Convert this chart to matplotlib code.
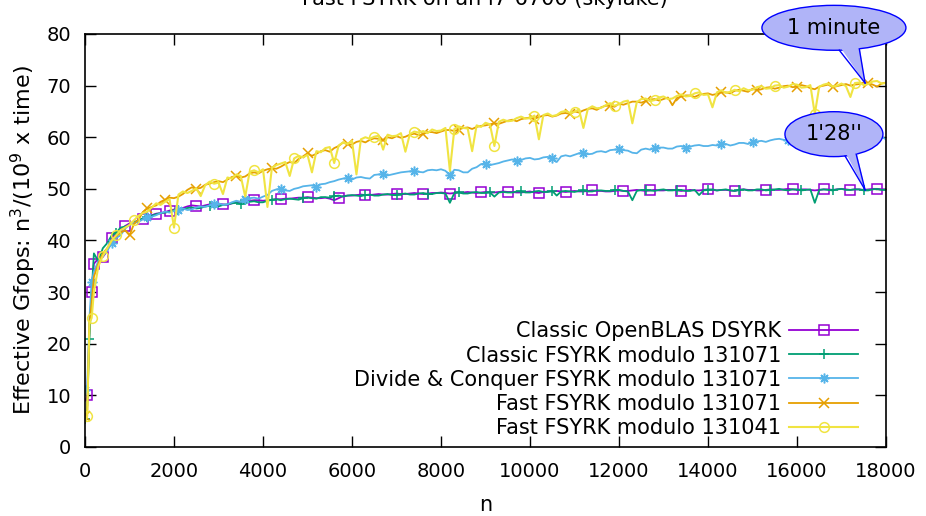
import numpy as np
import matplotlib
matplotlib.use("Agg")
import matplotlib.pyplot as plt
from matplotlib.patches import Ellipse, Polygon

# matrix sizes: a few small ones, then every 100 up to 18000
n = np.concatenate([[10, 50, 100, 150, 200, 300, 400, 500, 600, 700, 800, 900],
                    np.arange(1000, 18001, 100)])

openblas = [9.0, 10.0, 23.0, 30.0, 35.5, 36.5, 36.8, 38.0, 40.5, 41.5, 42.0, 42.8,
            43.3, 43.6, 43.8, 44.2, 44.5, 44.9, 45.2, 45.3, 45.5, 45.8,
            46.0, 46.1, 46.3, 46.6, 46.8, 46.7, 46.6, 46.8, 47.0, 47.1,
            47.1, 47.0, 46.9, 47.2, 47.4, 47.5, 47.6, 47.7, 47.8, 47.8,
            47.7, 47.8, 47.9, 48.0, 48.0, 48.1, 48.1, 48.2, 48.3, 48.3,
            48.4, 48.3, 48.2, 48.2, 48.3, 48.1, 47.8, 48.2, 48.6, 48.7,
            48.7, 48.8, 48.9, 48.8, 48.8, 48.9, 49.0, 48.9, 48.9, 49.0,
            49.1, 49.0, 49.0, 49.1, 49.2, 49.1, 49.0, 49.1, 49.2, 49.2,
            49.3, 49.2, 49.1, 49.2, 49.3, 49.3, 49.4, 49.3, 49.2, 49.3,
            49.4, 49.3, 49.3, 49.4, 49.5, 49.4, 49.4, 49.3, 49.3, 49.4,
            49.5, 49.3, 49.2, 49.4, 49.5, 49.5, 49.6, 49.5, 49.4, 49.5,
            49.6, 49.5, 49.5, 49.6, 49.7, 49.6, 49.6, 49.5, 49.5, 49.6,
            49.7, 49.6, 49.6, 49.7, 49.8, 49.7, 49.6, 49.7, 49.8, 49.7,
            49.7, 49.8, 49.8, 49.7, 49.6, 49.7, 49.8, 49.7, 49.7, 49.8,
            49.9, 49.8, 49.7, 49.8, 49.8, 49.7, 49.6, 49.8, 49.9, 49.8,
            49.8, 49.7, 49.7, 49.8, 49.9, 49.8, 49.8, 49.9, 50.0, 49.9,
            49.8, 49.9, 49.9, 49.8, 49.7, 49.8, 49.9, 49.9, 49.8, 49.9,
            50.0, 49.9, 49.8, 49.9, 49.9, 49.8, 49.9, 50.0, 50.0, 49.9,
            49.9]

classic = [5.5, 8.0, 21.0, 30.0, 37.5, 36.0, 38.5, 39.5, 41.0, 41.5, 42.5, 42.7,
           43.0, 43.5, 43.9, 44.3, 44.6, 44.8, 45.1, 45.3, 45.4, 45.6,
           45.8, 45.9, 46.0, 46.3, 46.4, 46.2, 46.3, 46.6, 46.7, 46.5,
           46.6, 46.9, 47.0, 47.2, 47.3, 47.1, 47.2, 47.5, 47.6, 47.4,
           47.4, 47.7, 47.9, 48.0, 47.8, 48.0, 48.1, 48.0, 47.9, 48.2,
           48.3, 48.2, 48.1, 48.4, 48.4, 48.3, 48.6, 48.7, 48.5, 48.7,
           48.8, 48.7, 48.6, 48.8, 48.9, 48.7, 48.7, 48.9, 49.0, 48.8,
           48.8, 49.0, 49.1, 48.9, 48.9, 49.1, 49.2, 49.0, 49.0, 49.2,
           49.2, 49.1, 47.3, 49.2, 49.3, 49.1, 49.1, 49.3, 49.4, 49.2,
           49.2, 49.3, 48.5, 49.3, 49.4, 49.3, 49.3, 49.5, 49.5, 49.3,
           49.3, 49.5, 49.6, 49.4, 49.4, 49.6, 48.7, 49.5, 49.6, 49.5,
           49.4, 49.6, 49.7, 49.5, 49.5, 49.7, 49.7, 49.6, 49.6, 49.8,
           49.8, 49.6, 49.5, 47.8, 49.6, 49.8, 49.8, 49.7, 49.6, 49.8,
           49.9, 49.7, 49.7, 49.8, 49.8, 49.6, 49.6, 49.8, 48.8, 49.7,
           49.8, 49.9, 49.7, 49.8, 49.9, 49.7, 49.6, 49.8, 49.9, 49.7,
           49.7, 49.9, 49.9, 49.7, 49.8, 49.9, 50.0, 49.8, 49.7, 49.9,
           49.9, 49.7, 49.8, 49.9, 47.3, 49.8, 49.9, 49.8, 49.7, 49.9,
           50.0, 49.8, 49.8, 49.9, 49.9, 49.7, 49.7, 49.9, 50.0, 49.8,
           49.8]

dandc = [11.0, 12.0, 25.0, 32.0, 34.0, 36.0, 37.0, 38.0, 39.5, 40.5, 41.0, 42.3,
         43.0, 43.4, 43.6, 44.1, 44.5, 44.6, 44.9, 45.3, 45.6, 45.4,
         45.7, 46.0, 46.2, 45.9, 46.0, 46.4, 46.6, 46.5, 46.8, 47.0,
         47.2, 46.9, 47.0, 47.4, 47.7, 47.5, 48.0, 48.2, 48.3, 48.1,
         48.5, 48.8, 49.6, 49.9, 50.0, 49.7, 49.6, 50.0, 50.2, 50.5,
         50.6, 50.7, 50.4, 50.9, 51.0, 51.3, 51.5, 51.8, 52.0, 52.1,
         51.8, 52.2, 52.3, 52.1, 52.0, 52.7, 52.8, 52.9, 52.6, 52.8,
         53.0, 53.2, 53.3, 53.4, 53.5, 53.3, 53.2, 53.6, 53.7, 53.6,
         53.8, 53.5, 52.6, 53.7, 53.6, 53.2, 53.2, 53.9, 54.2, 54.8,
         54.9, 54.6, 54.8, 55.0, 55.3, 55.5, 55.7, 55.4, 55.6, 55.9,
         56.0, 55.7, 55.8, 56.1, 56.2, 55.9, 55.2, 56.3, 56.5, 56.3,
         56.6, 56.9, 57.0, 56.7, 56.8, 57.2, 57.3, 57.1, 57.5, 57.6,
         57.7, 57.5, 57.4, 57.0, 56.9, 57.6, 57.8, 57.6, 57.9, 58.0,
         58.0, 57.8, 57.8, 58.2, 58.3, 58.0, 58.2, 58.4, 58.5, 58.3,
         58.3, 58.5, 58.4, 58.6, 58.7, 58.4, 58.6, 58.9, 58.9, 58.7,
         59.0, 59.2, 59.3, 59.1, 59.4, 59.6, 59.7, 59.5, 59.5, 59.8,
         59.4, 59.7, 59.6, 59.3, 59.3, 59.6, 59.8, 59.9, 59.6, 59.8,
         59.9, 60.1, 59.7, 59.9, 60.0, 60.2, 59.8, 59.9, 59.9, 60.1,
         59.6]

fast71 = [6.0, 7.0, 24.0, 28.0, 33.0, 35.5, 37.5, 38.5, 40.0, 40.8, 41.5, 42.0,
          41.0, 43.2, 44.0, 45.5, 46.2, 46.5, 46.8, 47.5, 47.9, 48.3,
          48.2, 48.5, 49.0, 49.8, 50.3, 50.0, 50.2, 50.8, 51.0, 51.3,
          51.5, 51.3, 51.8, 52.3, 52.5, 52.2, 52.4, 53.0, 53.2, 53.0,
          53.5, 53.8, 54.0, 53.9, 54.3, 54.8, 55.2, 55.0, 55.8, 56.3,
          56.9, 56.4, 56.8, 57.3, 57.5, 57.2, 57.9, 58.3, 59.0, 58.6,
          58.6, 59.1, 59.3, 59.0, 59.5, 59.8, 59.7, 59.4, 60.0, 59.8,
          60.2, 59.9, 60.1, 60.5, 60.7, 60.4, 60.6, 61.0, 61.0, 60.8,
          61.1, 61.4, 61.4, 61.2, 61.5, 61.8, 61.9, 61.6, 62.0, 62.2,
          62.3, 62.5, 62.7, 62.6, 62.9, 63.2, 63.4, 63.1, 63.5, 63.7,
          63.8, 63.6, 63.9, 64.2, 64.3, 64.0, 64.2, 64.6, 64.7, 64.5,
          65.0, 64.8, 65.2, 65.5, 65.6, 65.3, 65.8, 66.1, 66.1, 65.9,
          66.5, 66.3, 66.6, 66.9, 66.9, 66.7, 67.0, 67.3, 67.4, 67.1,
          67.4, 67.7, 66.2, 67.6, 67.9, 68.1, 68.1, 67.8, 68.2, 68.4,
          68.5, 68.2, 68.4, 68.7, 68.7, 68.5, 69.0, 69.2, 69.0, 68.8,
          69.4, 69.1, 69.3, 69.6, 69.7, 69.4, 69.6, 69.9, 70.0, 69.7,
          69.8, 70.1, 69.9, 69.5, 69.3, 69.8, 70.0, 70.2, 69.7, 69.9,
          70.1, 70.3, 70.0, 70.2, 70.3, 70.6, 70.5, 70.2, 69.8, 70.4,
          70.6]

fast41 = [5.0, 6.0, 24.0, 25.0, 30.0, 35.0, 37.0, 38.5, 40.0, 41.0, 42.0, 42.5,
          43.0, 43.9, 44.8, 45.3, 45.6, 46.4, 47.2, 46.9, 47.5, 48.0,
          42.5, 48.9, 49.5, 49.2, 49.6, 50.1, 48.6, 50.7, 51.4, 51.0,
          51.2, 49.0, 52.2, 52.0, 52.8, 52.5, 48.5, 53.3, 53.6, 53.2,
          53.8, 46.5, 54.1, 54.6, 54.9, 55.2, 52.5, 55.9, 56.4, 56.1,
          56.6, 53.2, 57.3, 57.1, 57.9, 58.1, 55.0, 58.4, 59.0, 58.7,
          59.3, 52.8, 59.6, 60.0, 59.7, 60.1, 60.3, 57.6, 60.5, 60.2,
          60.3, 60.8, 57.2, 60.6, 61.1, 60.9, 61.2, 60.8, 61.5, 61.2,
          61.3, 61.8, 53.5, 61.6, 62.1, 61.8, 61.7, 57.3, 62.3, 62.0,
          62.8, 62.5, 58.3, 63.0, 63.4, 63.1, 63.2, 63.7, 64.0, 63.6,
          63.7, 64.2, 59.6, 64.3, 64.6, 64.1, 64.3, 64.9, 65.1, 64.7,
          64.9, 65.4, 61.8, 65.5, 66.0, 65.6, 65.7, 66.2, 66.6, 66.1,
          66.4, 66.9, 67.1, 62.7, 66.8, 67.4, 67.5, 67.0, 67.2, 67.7,
          67.9, 67.4, 67.5, 68.0, 68.3, 67.9, 68.0, 68.5, 68.7, 68.2,
          68.3, 65.8, 68.7, 69.1, 68.6, 68.8, 69.2, 68.9, 69.5, 69.1,
          69.2, 69.7, 69.9, 69.4, 69.5, 70.0, 70.1, 69.6, 69.8, 70.3,
          70.2, 69.6, 69.7, 70.1, 64.5, 69.8, 70.2, 70.4, 69.8, 70.0,
          70.4, 69.9, 67.8, 70.5, 70.6, 70.1, 70.3, 70.8, 70.9, 70.4,
          70.5]


def marks(early, start, step):
    # gnuplot-like point interval: a few marks near the origin, then regular ones
    later = np.searchsorted(n, np.arange(start, 18001, step))
    return sorted(set(list(early) + [int(i) for i in later if i < len(n)]))


# label, values, colour, marker, line width, marked points
series = [
    ("Classic OpenBLAS DSYRK", openblas, "#9400d3", "s", 1.3,
     marks([1, 3, 4, 6, 8, 11, 15, 18, 21], 2430, 640)),
    ("Classic FSYRK modulo 131071", classic, "#009e73", "+", 1.3,
     marks([0, 2], 700, 700)),
    ("Divide & Conquer FSYRK modulo 131071", dandc, "#56b4e9", (8, 2, 0), 1.3,
     marks([0, 3], 560, 760)),
    ("Fast FSYRK modulo 131071", fast71, "#e69f00", "x", 1.3,
     marks([0, 12, 16, 20], 2470, 840)),
    ("Fast FSYRK modulo 131041", fast41, "#f0e442", "o", 1.5,
     marks([1, 3, 6, 9, 13], 2000, 900)),
]

plt.rcParams['font.family'] = ['DejaVu Sans']
fig = plt.figure(figsize=(9.26, 5.16), dpi=100)
ax = fig.add_axes([85 / 926, 1 - 447 / 516, 801 / 926, 413 / 516])

for label, vals, col, mk, lw, every in series:
    ax.plot(n, vals, color=col, lw=lw, marker=mk, ms=7, mew=1.1,
            mfc='none', markevery=every, label=label)

ax.set_xlim(0, 18000)
ax.set_ylim(0, 80)
ax.set_xticks(np.arange(0, 18001, 2000))
ax.set_yticks(np.arange(0, 81, 10))
ax.tick_params(direction='in', top=True, right=True, length=8, width=1,
               labelsize=14)
ax.tick_params(axis='x', pad=11)
ax.tick_params(axis='y', pad=10)
for s in ax.spines.values():
    s.set_linewidth(1.2)

ax.set_xlabel("n", fontsize=15, labelpad=10)
ax.set_ylabel("Effective Gfops: n$^3$/(10$^9$ x time)", fontsize=16, labelpad=6)
fig.text(485 / 926, 1 - 5 / 516, "Fast FSYRK on an i7-6700 (skylake)",
         ha='center', va='baseline', fontsize=15)

leg = ax.legend(loc='lower right', bbox_to_anchor=(858 / 926, 1 - 438 / 516),
                bbox_transform=fig.transFigure, frameon=False, fontsize=15,
                markerfirst=False, handlelength=3.3, handletextpad=0.4,
                labelspacing=0.2, borderpad=0, borderaxespad=0)


def bubble(cx, cy, w, h, base, tip, text):
    fill = '#b0b4f8'
    ax.add_patch(Ellipse((cx, cy), w, h, facecolor=fill, edgecolor='#0000ff',
                         lw=1, clip_on=False, zorder=5))
    # tail base sits on the lower edge of the ellipse
    edge = [cy - h / 2 * np.sqrt(1 - (2 * (bx - cx) / w) ** 2) for bx in base]
    inner = [cy - h / 2 * 0.8 * np.sqrt(1 - (2 * (bx - cx) / w) ** 2) for bx in base]
    ax.add_patch(Polygon([(base[0], inner[0]), (base[1], inner[1]), tip],
                         closed=True, facecolor=fill, edgecolor='none',
                         clip_on=False, zorder=6))
    for bx, by in zip(base, edge):
        ax.plot([bx, tip[0]], [by, tip[1]], color='#0000ff', lw=1,
                clip_on=False, zorder=7)
    ax.text(cx, cy, text, ha='center', va='center', fontsize=15, zorder=8)


bubble(16830, 81.2, 3236, 8.7, (16950, 17400), (17530, 70.5), "1 minute")
bubble(16830, 60.6, 2202, 8.7, (17080, 17330), (17530, 49.8), "1'28''")

fig.savefig("out.png", dpi=100)
